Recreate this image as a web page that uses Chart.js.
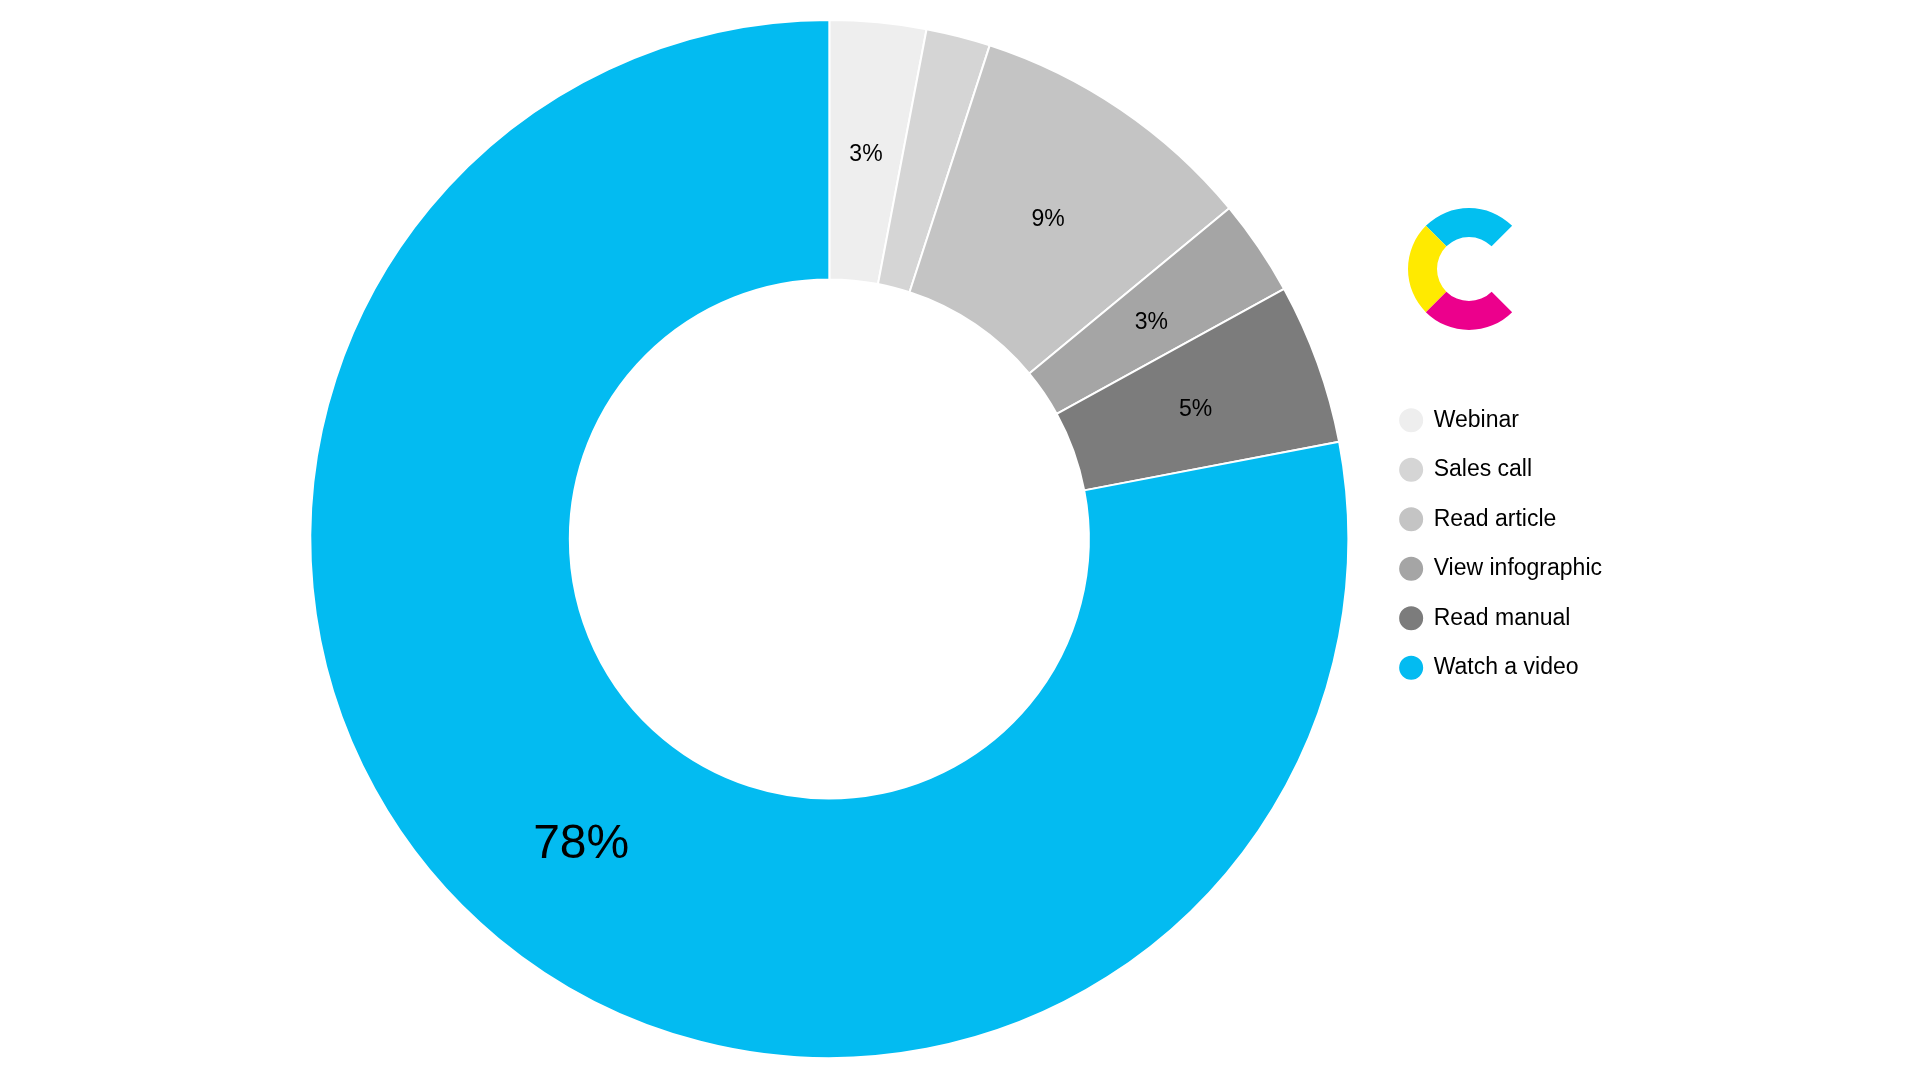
<!DOCTYPE html>
<html>
<head>
<meta charset="utf-8">
<script src="https://cdn.jsdelivr.net/npm/chart.js@4.4.0/dist/chart.umd.min.js"></script>
<style>
  html, body { margin: 0; padding: 0; background: #fff; }
  #wrap { width: 1920px; height: 1080px; }
</style>
</head>
<body>
<div id="wrap"><canvas id="donutChart" width="1920" height="1080"></canvas></div>
<script>
// data
const categories = ['Webinar', 'Sales call', 'Read article', 'View infographic', 'Read manual', 'Watch a video'];
const shares = [3, 2, 9, 3, 5, 78];
const sliceColors = ['#eeeeee', '#d5d5d5', '#c4c4c4', '#a5a5a5', '#7c7c7c', '#03bbf1'];

// percent text in the middle of each slice (small slices skipped)
const sliceLabels = {
    id: 'sliceLabels',
    afterDatasetsDraw(chart) {
        const ctx = chart.ctx;
        const meta = chart.getDatasetMeta(0);
        ctx.save();
        ctx.fillStyle = '#000';
        ctx.textAlign = 'center';
        ctx.textBaseline = 'middle';
        meta.data.forEach((arc, i) => {
            const v = shares[i];
            if (v < 3) return;
            const p = arc.getCenterPoint();
            const size = v > 50 ? 48 : 23;
            ctx.font = size + 'px "Liberation Sans", Arial, sans-serif';
            // nudge down so the digits sit visually centred
            ctx.fillText(v + '%', p.x, p.y + size * 0.12);
        });
        ctx.restore();
    }
};

// small C logo above the legend
const logo = {
    id: 'logo',
    afterDraw(chart) {
        const ctx = chart.ctx;
        const cx = 1469, cy = 269, r1 = 61, r0 = 32;
        const parts = [
            ['#02bff0', 225, 315],
            ['#ffea00', 135, 225],
            ['#ec008c', 45, 135]
        ];
        ctx.save();
        parts.forEach(p => {
            const a0 = p[1] * Math.PI / 180, a1 = p[2] * Math.PI / 180;
            ctx.beginPath();
            ctx.arc(cx, cy, r1, a0, a1);
            ctx.arc(cx, cy, r0, a1, a0, true);
            ctx.closePath();
            ctx.fillStyle = p[0];
            ctx.fill();
        });
        ctx.restore();
    }
};

new Chart(document.getElementById('donutChart').getContext('2d'), {
    type: 'doughnut',
    data: {
        labels: categories,
        datasets: [{
            data: shares,
            backgroundColor: sliceColors,
            borderColor: '#ffffff',
            borderWidth: 2,
            hoverOffset: 0
        }]
    },
    options: {
        responsive: false,
        animation: false,
        cutout: '50%',
        layout: {
            padding: { left: 285, top: 19, bottom: 21, right: 308 }
        },
        plugins: {
            legend: {
                position: 'right',
                align: 'center',
                title: {
                    display: true,
                    text: '',
                    font: { size: 5 },
                    padding: { top: 4, bottom: 0 }
                },
                labels: {
                    usePointStyle: true,
                    pointStyle: 'circle',
                    boxWidth: 22,
                    boxHeight: 18.4,
                    padding: 26.5,
                    color: '#000',
                    font: { family: '"Liberation Sans", Arial, sans-serif', size: 23 }
                }
            },
            tooltip: {
                enabled: false
            }
        }
    },
    plugins: [sliceLabels, logo]
});
</script>
</body>
</html>
